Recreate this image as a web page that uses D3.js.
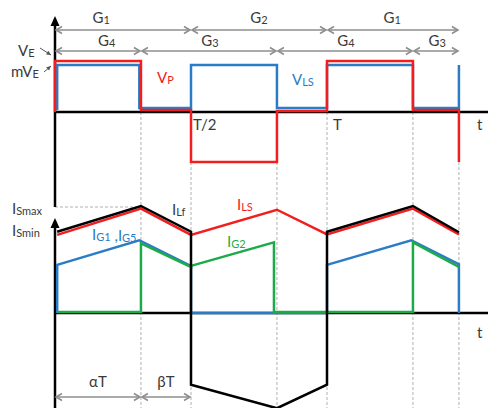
<!DOCTYPE html>
<html>
<head>
<meta charset="utf-8">
<script src="https://cdn.jsdelivr.net/npm/d3@7"></script>
<style>
  body { margin: 0; background: #fff; }
  text { font-family: Lato, "Open Sans", sans-serif; }
</style>
</head>
<body>
<div id="chart"></div>
<script>
// time in units of T, voltages in units of VE, currents in units of ISmax
var alpha = 0.316;
var tEnd = 1.485;
var tMarks = [alpha, 0.5, 0.5 + alpha, 1, 1 + alpha, tEnd];

var vpPoints = [[0, 0], [0, 1], [alpha, 1], [alpha, 0.04], [0.5, 0.04], [0.5, -0.98],
    [0.5 + alpha, -0.98], [0.5 + alpha, 0.02], [1, 0.02], [1, 1], [1 + alpha, 1],
    [1 + alpha, 0.04], [tEnd, 0.04], [tEnd, -0.98]];
var vlsPoints = [[0.008, 0.04], [0.008, 0.92], [0.31, 0.92], [0.31, 0.08], [0.5, 0.08], [0.5, 0.92],
    [0.5 + alpha, 0.92], [0.5 + alpha, 0.08], [1, 0.08], [1, 0.92], [1 + alpha, 0.92],
    [1 + alpha, 0.08], [tEnd, 0.08], [tEnd, 0.92]];

var ilfPoints = [[0.008, 0.76], [alpha, 1], [0.5, 0.76], [0.5, -0.67], [0.5 + alpha, -0.89],
    [1, -0.67], [1, 0.76], [1 + alpha, 1], [tEnd, 0.755]];
var ilsPoints = [[0.008, 0.73], [alpha, 0.975], [0.5, 0.73], [0.5 + alpha, 0.965], [1, 0.735],
    [1 + alpha, 0.975], [tEnd, 0.735]];
var ig1Points = [[0.008, 0], [0.008, 0.45], [0.31, 0.68], [0.5, 0.44], [0.5, 0], [1, 0], [1, 0.45],
    [1.31, 0.68], [tEnd, 0.455], [tEnd, 0]];
var ig2Points = [[0.008, 0.01], [alpha, 0.01], [alpha, 0.65], [0.5, 0.43], [0.5, 0.44],
    [0.805, 0.66], [0.805, 0.01], [1 + alpha, 0.01], [1 + alpha, 0.66], [tEnd, 0.43]];

// gate intervals: [start, end, subscript, label time]
var gRow1 = [[0, 0.5, "1", 0.17], [0.5, 1, "2", 0.75], [1, tEnd, "1", 1.24]];
var gRow2 = [[0, alpha, "4", 0.19], [alpha, 0.5 + alpha, "3", 0.57], [0.5 + alpha, 1 + alpha, "4", 1.07], [1 + alpha, tEnd, "3", 1.405]];
var bottomSpans = [[0, alpha, "\u03b1T"], [alpha, 0.5, "\u03b2T"]];

var w = 488, h = 408;
var svg = d3.select("#chart").append("svg").attr("width", w).attr("height", h);

var x = d3.scaleLinear().domain([0, 1]).range([55, 327]);
var yTop = d3.scaleLinear().domain([0, 1]).range([112, 61]);
var yMid = d3.scaleLinear().domain([0, 1]).range([313, 206]);

var red = "#f21d1d", blue = "#2a7cc7", green = "#1dab4a", gray = "#8e8e8e", txt = "#3a3a3a";

// dashed time markers
svg.selectAll("line.mark").data(tMarks).enter().append("line")
    .attr("x1", function (d) { return x(d); }).attr("x2", function (d) { return x(d); })
    .attr("y1", yTop(0)).attr("y2", h)
    .attr("stroke", "#b0b0b0").attr("stroke-width", 1).attr("stroke-dasharray", "3,2");

// ISmax guide
svg.append("line").attr("x1", x(0)).attr("x2", x(alpha)).attr("y1", yMid(1) + 1).attr("y2", yMid(1) + 1)
    .attr("stroke", "#b0b0b0").attr("stroke-width", 1).attr("stroke-dasharray", "3,2");

// axes
function axisArrow(tipY) {
    svg.append("path").attr("d", "M" + x(0) + "," + tipY + "l-4.5,10h9z").attr("fill", "#000");
}
svg.append("line").attr("x1", x(0)).attr("x2", x(0)).attr("y1", 22).attr("y2", yMid(1) + 1)
    .attr("stroke", "#000").attr("stroke-width", 2.5);
axisArrow(16);
svg.append("line").attr("x1", x(0)).attr("x2", x(0)).attr("y1", 224).attr("y2", h)
    .attr("stroke", "#000").attr("stroke-width", 2.5);
axisArrow(218);
svg.append("line").attr("x1", x(0)).attr("x2", w).attr("y1", yTop(0)).attr("y2", yTop(0))
    .attr("stroke", "#000").attr("stroke-width", 2.5);
svg.append("line").attr("x1", x(0)).attr("x2", w).attr("y1", yMid(0)).attr("y2", yMid(0))
    .attr("stroke", "#000").attr("stroke-width", 2.5);

// waveforms
function trace(points, yScale, color) {
    var line = d3.line().x(function (d) { return x(d[0]); }).y(function (d) { return yScale(d[1]); });
    svg.append("path").datum(points).attr("d", line)
        .attr("fill", "none").attr("stroke", color).attr("stroke-width", 2.5)
        .attr("stroke-linejoin", "miter");
}
trace(vlsPoints, yTop, blue);
trace(vpPoints, yTop, red);
trace(ig1Points, yMid, blue);
trace(ig2Points, yMid, green);
trace(ilsPoints, yMid, red);
trace(ilfPoints, yMid, "#000");

// dimension arrows
function chevron(px, py, dir) {
    svg.append("path").attr("d", "M" + (px + dir * 6) + "," + (py - 3.5) + "L" + px + "," + py + "L" + (px + dir * 6) + "," + (py + 3.5))
        .attr("fill", "none").attr("stroke", gray).attr("stroke-width", 1.6);
}
function spans(data, py) {
    data.forEach(function (d) {
        var a = x(d[0]) + 1, b = x(d[1]) - 1;
        svg.append("line").attr("x1", a).attr("x2", b).attr("y1", py).attr("y2", py)
            .attr("stroke", gray).attr("stroke-width", 1.6);
        chevron(a, py, 1);
        chevron(b, py, -1);
    });
}
spans(gRow1, 30);
spans(gRow2, 51);
spans(bottomSpans, 397);

// text helper: main text with an optional lowered small part
function label(px, py, parts, color, anchor) {
    var t = svg.append("text").attr("x", px).attr("y", py).attr("fill", color)
        .attr("text-anchor", anchor || "start");
    parts.forEach(function (p) {
        var s = t.append("tspan").text(p[0]).attr("font-size", p[1] ? 11 : 15);
        if (p[1] === 1) s.attr("dy", 1);
    });
    return t;
}
gRow1.forEach(function (d) { label(x(d[3]), 23, [["G"], [d[2], 1]], txt, "middle"); });
gRow2.forEach(function (d) { label(x(d[3]), 46, [["G"], [d[2], 1]], txt, "middle"); });
bottomSpans.forEach(function (d) {
    label((x(d[0]) + x(d[1])) / 2, 387, [[d[2]]], txt, "middle");
});

label(18, 56, [["V"], ["E", 1]], txt);
label(11, 77, [["mV"], ["E", 1]], txt);
label(157, 83, [["V"], ["P", 1]], red);
label(292, 85, [["V"], ["LS", 1]], blue);
label(x(0.5) + 2, 130, [["T/2"]], txt);
label(x(1) + 6, 130, [["T"]], txt);
label(477, 130, [["t"]], txt);
label(477, 338, [["t"]], txt);

label(12, 214, [["I"], ["Smax", 1]], txt);
label(12, 236, [["I"], ["Smin", 1]], txt);
label(172, 215, [["I"], ["Lf", 1]], txt);
label(237, 210, [["I"], ["LS", 1]], red);
label(92, 240, [["I"], ["G1", 1], [" ,", 0], ["I", 0], ["G5", 1]], blue);
label(227, 247, [["I"], ["G2", 1]], green);

// small pointer arrows next to VE, mVE
function pointer(x1, y1, x2, y2) {
    svg.append("line").attr("x1", x1).attr("y1", y1).attr("x2", x2).attr("y2", y2)
        .attr("stroke", "#555").attr("stroke-width", 1);
    var ang = Math.atan2(y2 - y1, x2 - x1);
    var p = [[x2, y2], [x2 - 5 * Math.cos(ang - 0.45), y2 - 5 * Math.sin(ang - 0.45)],
        [x2 - 5 * Math.cos(ang + 0.45), y2 - 5 * Math.sin(ang + 0.45)]];
    svg.append("path").attr("d", "M" + p.join("L") + "Z").attr("fill", "#555");
}
pointer(40, 48, 51, 55);
pointer(44, 72, 51, 66);
</script>
</body>
</html>
